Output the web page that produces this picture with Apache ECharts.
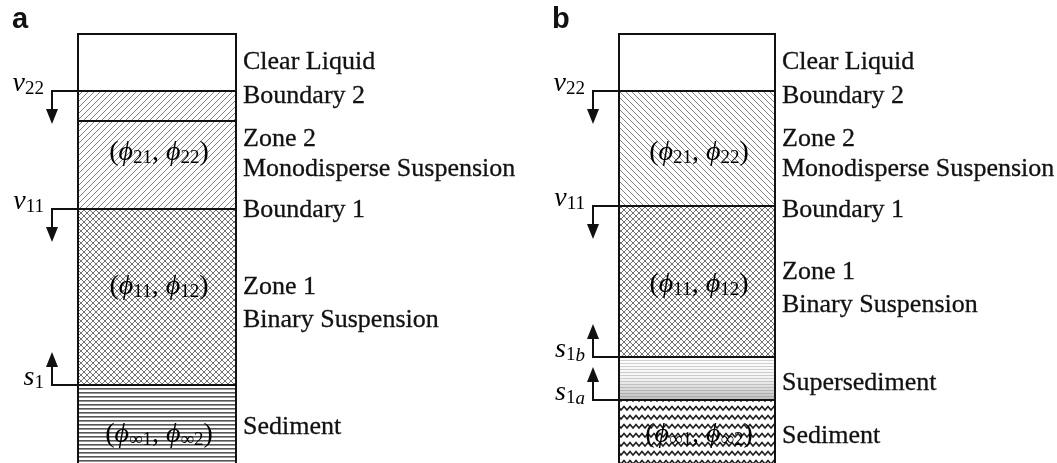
<!DOCTYPE html>
<html><head><meta charset="utf-8">
<script src="https://cdn.jsdelivr.net/npm/echarts@6/dist/echarts.min.js"></script>
<style>html,body{margin:0;padding:0;background:#fff}#c{width:1057px;height:463px}</style>
</head><body><div id="c"></div><script>
// ---------- data (depth below column top, column height = 429) ----------
const columnHeight = 429;

const layerNamesA   = ['Clear Liquid', 'Boundary 2 band', 'Zone 2', 'Zone 1', 'Sediment'];
const layerTopA     = [0, 57, 87, 175, 351];
const layerBottomA  = [57, 87, 175, 351, 429];
const layerPatternA = ['none', 'diagUp', 'diagUp', 'cross', 'hlines'];

const layerNamesB   = ['Clear Liquid', 'Zone 2', 'Zone 1', 'Supersediment', 'Sediment'];
const layerTopB     = [0, 57, 172, 323, 366];
const layerBottomB  = [57, 172, 323, 366, 429];
const layerPatternB = ['none', 'diagDown', 'cross', 'superlines', 'wavy'];

const sideLabelsA = ['Clear Liquid', 'Boundary 2', 'Zone 2', 'Monodisperse Suspension', 'Boundary 1', 'Zone 1', 'Binary Suspension', 'Sediment'];
const sideDepthA  = [28, 62, 105, 135, 176, 253, 286, 393];
const sideLabelsB = ['Clear Liquid', 'Boundary 2', 'Zone 2', 'Monodisperse Suspension', 'Boundary 1', 'Zone 1', 'Binary Suspension', 'Supersediment', 'Sediment'];
const sideDepthB  = [28, 62, 105, 135, 176, 238, 271, 349, 402];

const zoneSubsA  = [['21', '22'], ['11', '12'], ['∞1', '∞2']];
const zoneDepthA = [119, 253, 401];
const zoneSubsB  = [['21', '22'], ['11', '12'], ['∞1', '∞2']];
const zoneDepthB = [119, 251, 401];

const arrowVarA   = ['v', 'v', 's'];
const arrowSubA   = ['22', '11', '1'];
const arrowExtraA = ['', '', ''];
const arrowDepthA = [57, 175, 351];
const arrowDirA   = [1, 1, -1];

const arrowVarB   = ['v', 'v', 's', 's'];
const arrowSubB   = ['22', '11', '1', '1'];
const arrowExtraB = ['', '', 'b', 'a'];
const arrowDepthB = [57, 172, 323, 366];
const arrowDirB   = [1, 1, -1, -1];

const arrowLength = 33;
const panelLetters = ['a', 'b'];

// ---------- patterns ----------
function mk(w, h, draw) {
  const c = document.createElement('canvas');
  c.width = w; c.height = h;
  const g = c.getContext('2d');
  g.fillStyle = '#fff'; g.fillRect(0, 0, w, h);
  draw(g);
  return c;
}
const pats = {
  diagUp: mk(6, 6, g => {
    g.strokeStyle = '#858585'; g.lineWidth = 1;
    g.beginPath();
    g.moveTo(-1, 7); g.lineTo(7, -1);
    g.moveTo(-1, 1); g.lineTo(1, -1);
    g.moveTo(5, 7); g.lineTo(7, 5);
    g.stroke();
  }),
  diagDown: mk(6, 6, g => {
    g.strokeStyle = '#858585'; g.lineWidth = 1;
    g.beginPath();
    g.moveTo(-1, -1); g.lineTo(7, 7);
    g.moveTo(5, -1); g.lineTo(7, 1);
    g.moveTo(-1, 5); g.lineTo(1, 7);
    g.stroke();
  }),
  cross: mk(6, 6, g => {
    g.strokeStyle = '#727272'; g.lineWidth = 1;
    g.beginPath();
    g.moveTo(-1, 7); g.lineTo(7, -1);
    g.moveTo(-1, 1); g.lineTo(1, -1);
    g.moveTo(5, 7); g.lineTo(7, 5);
    g.moveTo(-1, -1); g.lineTo(7, 7);
    g.moveTo(5, -1); g.lineTo(7, 1);
    g.moveTo(-1, 5); g.lineTo(1, 7);
    g.stroke();
  }),
  hlines: mk(4, 4, g => {
    g.fillStyle = '#555'; g.fillRect(0, 0, 4, 1.6);
  }),
  superlines: mk(4, 3, g => {
    g.fillStyle = '#d2d2d2'; g.fillRect(0, 0, 4, 1);
  }),
  wavy: mk(6, 9, g => {
    g.strokeStyle = '#1e1e1e'; g.lineWidth = 1.5;
    g.beginPath();
    g.moveTo(-3, 5); g.lineTo(0, 1.5); g.lineTo(3, 5); g.lineTo(6, 1.5); g.lineTo(9, 5);
    g.stroke();
  })
};
function fillFor(kind) {
  if (kind === 'none') return '#fff';
  return { image: pats[kind], repeat: 'repeat' };
}

const ink = '#111';
const serif = 'Liberation Serif';
const richMath = {
  n:  { fontFamily: serif, fontSize: 28, lineHeight: 30, color: ink },
  i:  { fontFamily: serif, fontSize: 28, lineHeight: 30, fontStyle: 'italic', color: ink },
  s:  { fontFamily: serif, fontSize: 19, lineHeight: 13, verticalAlign: 'bottom', color: ink },
  si: { fontFamily: serif, fontSize: 19, lineHeight: 13, verticalAlign: 'bottom', fontStyle: 'italic', color: ink }
};

// ---------- series builders ----------
function layerSeries(ax, tops, bottoms, patterns) {
  return {
    type: 'custom', xAxisIndex: ax, yAxisIndex: ax, clip: false, silent: true, z: 1,
    data: tops.map((t, i) => [t, bottoms[i], i]),
    renderItem(params, api) {
      const i = api.value(2);
      const p0 = api.coord([0, api.value(0)]);
      const p1 = api.coord([1, api.value(1)]);
      const shape = { x: p0[0], y: p0[1], width: p1[0] - p0[0], height: p1[1] - p0[1] };
      const kind = patterns[i];
      const children = [{ type: 'rect', shape, style: { fill: fillFor(kind) } }];
      if (kind === 'superlines') {
        children.push({ type: 'rect', shape, style: {
          fill: new echarts.graphic.LinearGradient(0, 0, 0, 1, [
            { offset: 0, color: 'rgba(110,110,110,0)' },
            { offset: 0.5, color: 'rgba(110,110,110,0.08)' },
            { offset: 1, color: 'rgba(110,110,110,0.45)' }
          ]) } });
      }
      return { type: 'group', children };
    }
  };
}

function frameSeries(ax, tops) {
  return {
    type: 'custom', xAxisIndex: ax, yAxisIndex: ax, clip: false, silent: true, z: 3,
    data: tops.map((t, i) => [t, i]),
    renderItem(params, api) {
      const d = api.value(0);
      const a = api.coord([0, d]), b = api.coord([1, d]);
      const children = [{ type: 'line', shape: { x1: a[0] - 1, y1: a[1], x2: b[0] + 1, y2: b[1] },
        style: { stroke: ink, lineWidth: 2 } }];
      if (api.value(1) === 0) {
        const bl = api.coord([0, columnHeight]), br = api.coord([1, columnHeight]);
        children.push({ type: 'line', shape: { x1: a[0], y1: a[1] - 1, x2: bl[0], y2: bl[1] + 2 }, style: { stroke: ink, lineWidth: 2 } });
        children.push({ type: 'line', shape: { x1: b[0], y1: b[1] - 1, x2: br[0], y2: br[1] + 2 }, style: { stroke: ink, lineWidth: 2 } });
      }
      return { type: 'group', children };
    }
  };
}

function arrowSeries(ax, depths, dirs, vars, subs, extras) {
  return {
    type: 'custom', xAxisIndex: ax, yAxisIndex: ax, clip: false, silent: true, z: 4,
    data: depths.map((d, i) => [d, dirs[i], i]),
    renderItem(params, api) {
      const d = api.value(0), dir = api.value(1), i = api.value(2);
      const p = api.coord([0, d]);
      const x = p[0] - 26, y = p[1];
      const tipY = api.coord([0, d + dir * arrowLength])[1];
      const headBase = tipY - dir * 15;
      const label = '{i|' + vars[i] + '}{s|' + subs[i] + '}' + (extras[i] ? '{si|' + extras[i] + '}' : '');
      return { type: 'group', children: [
        { type: 'polyline', shape: { points: [[p[0], y], [x, y], [x, headBase + dir]] },
          style: { stroke: ink, lineWidth: 2, fill: null } },
        { type: 'polygon', shape: { points: [[x - 6, headBase], [x + 6, headBase], [x, tipY]] },
          style: { fill: ink } },
        { type: 'text', style: { text: label, rich: richMath, x: x - 8, y: y - 7,
          align: 'right', verticalAlign: 'middle' } }
      ] };
    }
  };
}

function sideLabelSeries(ax, labels, depths) {
  return {
    type: 'custom', xAxisIndex: ax, yAxisIndex: ax, clip: false, silent: true, z: 5,
    data: depths.map((d, i) => [d, i]),
    renderItem(params, api) {
      const p = api.coord([1, api.value(0)]);
      return { type: 'text', style: { text: labels[api.value(1)], x: p[0] + 7, y: p[1],
        fontFamily: serif, fontSize: 26, fill: ink, align: 'left', verticalAlign: 'middle',
        stroke: ink, lineWidth: 0.3 } };
    }
  };
}

function zoneLabelSeries(ax, subs, depths) {
  return {
    type: 'custom', xAxisIndex: ax, yAxisIndex: ax, clip: false, silent: true, z: 5,
    data: depths.map((d, i) => [d, i]),
    renderItem(params, api) {
      const p = api.coord([0.5, api.value(0)]);
      const s = subs[api.value(1)];
      const txt = '{n|(}{i|ϕ}{s|' + s[0] + '}{n|, }{i|ϕ}{s|' + s[1] + '}{n|)}';
      return { type: 'text', style: { text: txt, rich: richMath, x: p[0] + 2, y: p[1],
        align: 'center', verticalAlign: 'middle' } };
    }
  };
}

const chart = echarts.init(document.getElementById('c'), null, { renderer: 'canvas' });
chart.setOption({
  animation: false,
  backgroundColor: '#fff',
  title: [
    { text: panelLetters[0], left: 12, top: 5, padding: 0,
      textStyle: { fontFamily: 'Liberation Sans', fontWeight: 'bold', fontSize: 29, color: ink } },
    { text: panelLetters[1], left: 552, top: 5, padding: 0,
      textStyle: { fontFamily: 'Liberation Sans', fontWeight: 'bold', fontSize: 29, color: ink } }
  ],
  grid: [
    { left: 78, top: 34, width: 158, height: 429 },
    { left: 619, top: 34, width: 156, height: 429 }
  ],
  xAxis: [
    { gridIndex: 0, type: 'value', min: 0, max: 1, show: false },
    { gridIndex: 1, type: 'value', min: 0, max: 1, show: false }
  ],
  yAxis: [
    { gridIndex: 0, type: 'value', min: 0, max: columnHeight, inverse: true, show: false },
    { gridIndex: 1, type: 'value', min: 0, max: columnHeight, inverse: true, show: false }
  ],
  series: [
    layerSeries(0, layerTopA, layerBottomA, layerPatternA),
    layerSeries(1, layerTopB, layerBottomB, layerPatternB),
    frameSeries(0, layerTopA),
    frameSeries(1, layerTopB),
    arrowSeries(0, arrowDepthA, arrowDirA, arrowVarA, arrowSubA, arrowExtraA),
    arrowSeries(1, arrowDepthB, arrowDirB, arrowVarB, arrowSubB, arrowExtraB),
    sideLabelSeries(0, sideLabelsA, sideDepthA),
    sideLabelSeries(1, sideLabelsB, sideDepthB),
    zoneLabelSeries(0, zoneSubsA, zoneDepthA),
    zoneLabelSeries(1, zoneSubsB, zoneDepthB)
  ]
});
</script></body></html>
